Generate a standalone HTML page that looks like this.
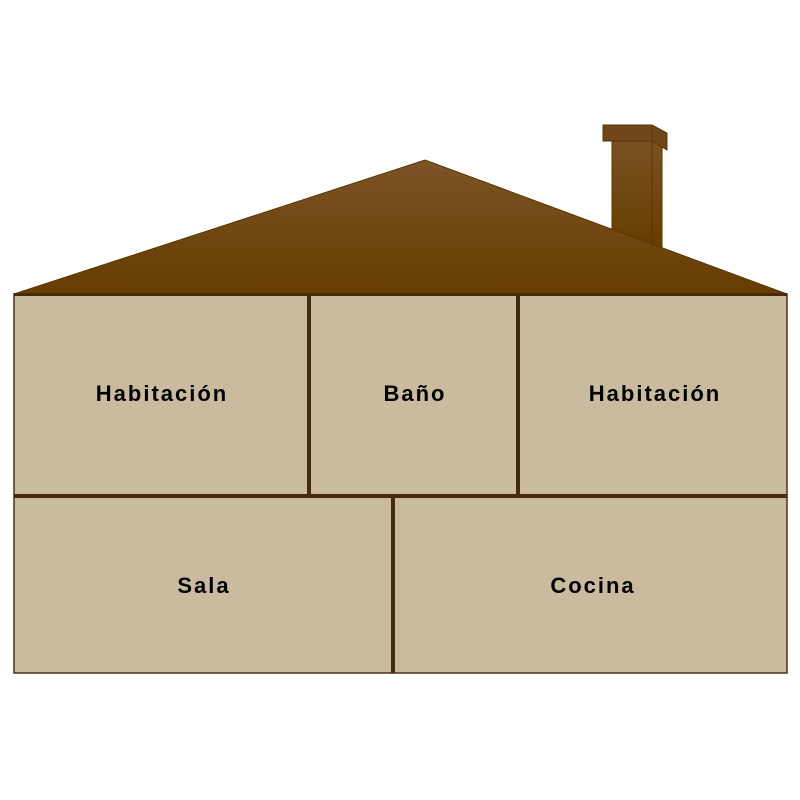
<!DOCTYPE html>
<html><head><meta charset="utf-8"><style>
html,body{margin:0;padding:0;background:#fff;width:800px;height:800px;overflow:hidden}
text{font-family:"Liberation Sans",sans-serif;font-weight:bold;font-size:22px;letter-spacing:2px;fill:#000}
</style></head><body>
<svg width="800" height="800" viewBox="0 0 800 800">
<defs>
<linearGradient id="rg" x1="0" y1="0" x2="0" y2="1"><stop offset="0" stop-color="#7c5426"/><stop offset="1" stop-color="#663c00"/></linearGradient>
<linearGradient id="cg" x1="0" y1="0" x2="0" y2="1"><stop offset="0" stop-color="#7a5222"/><stop offset="1" stop-color="#663c00"/></linearGradient>
</defs>
<g>
<rect x="612" y="140" width="50" height="110" fill="url(#cg)" stroke="#5a3500" stroke-width="1"/>
<line x1="652" y1="141" x2="652" y2="245" stroke="#5a3500" stroke-width="1"/>
<polygon points="603,125 652,125 667,133 667,150 652,141 603,141" fill="#70471a" stroke="#5a3500" stroke-width="1"/>
<line x1="652" y1="125" x2="652" y2="141" stroke="#5a3500"/>
</g>
<polygon points="14,294 425,160 787,294" fill="url(#rg)" stroke="#5a3500" stroke-width="1"/>
<rect x="14" y="294" width="773" height="379" fill="#cabb9f" stroke="#4a3010" stroke-width="1.5"/>
<g fill="#452a0c">
<rect x="14" y="293" width="773" height="3"/>
<rect x="14" y="494" width="773" height="4"/>
<rect x="307" y="294" width="4" height="200"/>
<rect x="516" y="294" width="4" height="200"/>
<rect x="391" y="498" width="4" height="175"/>
</g>
<text x="162" y="401" text-anchor="middle">Habitación</text>
<text x="415" y="401" text-anchor="middle">Baño</text>
<text x="655" y="401" text-anchor="middle">Habitación</text>
<text x="204" y="593" text-anchor="middle">Sala</text>
<text x="593" y="593" text-anchor="middle">Cocina</text>
</svg>
</body></html>
